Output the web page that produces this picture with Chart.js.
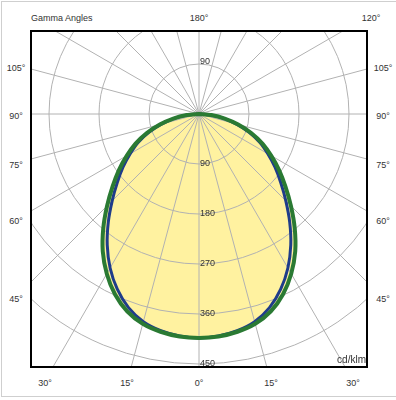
<!DOCTYPE html>
<html><head><meta charset="utf-8">
<script src="https://cdn.jsdelivr.net/npm/chart.js@4/dist/chart.umd.min.js"></script>
<style>
html,body{margin:0;padding:0;background:#fff;width:396px;height:400px;overflow:hidden;font-family:"Liberation Sans",Arial,sans-serif;}
#frame{position:absolute;left:1px;top:1px;width:410px;height:394px;border:1px solid #cfcfcf;}
#box{position:absolute;left:30px;top:30px;width:338px;height:338px;box-sizing:border-box;border:2px solid #000;overflow:hidden;background:#fff;}
#box canvas{position:absolute;left:-133px;top:-218px;}
.t{position:absolute;font-size:9px;line-height:10px;color:#333;white-space:nowrap;}
.c{transform:translateX(-50%);}
.r{transform:translateX(-100%);}
</style></head>
<body>
<div id="frame"></div>
<div id="box"><canvas id="chart" width="600" height="600"></canvas></div>
<div id="labels"></div>
<script>
// ---- data ----
// gamma angles of the samples, degrees (0 = straight down)
const gammaSteps = [0,5,10,15,20,25,30,35,40,45,50,55,60,65,70,75,80,85,90,
                    95,100,105,110,115,120,125,130,135,140,145,150,155,160,165,170,175,180];
// luminous intensity, cd/klm — blue curve (C0 / C180 plane)
const blueC0C180 = [403,401,396,387,371,348,320,288,254,221,192,167,143,121,96,70,45,21,0,
                    0,0,0,0,0,0,0,0,0,0,0,0,0,0,0,0,0,0];
// luminous intensity, cd/klm — green curve (C90 / C270 plane)
const greenC90C270 = [403,402,398,391,378,358,332,302,268,234,203,176,150,126,100,73,47,22,0,
                      0,0,0,0,0,0,0,0,0,0,0,0,0,0,0,0,0,0];
// radial tick values (cd/klm)
const intensityTicks = [90,180,270,360,450];
// gamma angle labels around the frame
const sideAngleLabels = ['105°','90°','75°','60°','45°'];
const bottomAngleLabels = ['30°','15°','0°','15°','30°'];
const topLabels = ['Gamma Angles','180°','120°'];
const unitLabel = 'cd/klm';

// ---- build radar ring: index 0 = gamma 0 (down), going clockwise through the left side ----
const ringLabels = [];
const ringIndexToGamma = [];
for (let i = 0; i < 72; i++) {
  const g = i <= 36 ? gammaSteps[i] : gammaSteps[72 - i];
  ringIndexToGamma.push(g);
  ringLabels.push(g + '°');
}
const blueRing = ringIndexToGamma.map(g => blueC0C180[gammaSteps.indexOf(g)]);
const greenRing = ringIndexToGamma.map(g => greenC90C270[gammaSteps.indexOf(g)]);

const GRID = '#b2b2b2';
let gridPhase = false;

const gridOverFill = {
  id: 'gridOverFill',
  afterDatasetDraw(chart, args) {
    if (args.index !== 0) return;
    const s = chart.scales.r;
    gridPhase = true;
    s.drawGrid(chart.chartArea);
    gridPhase = false;
    const ctx = chart.ctx;
    ctx.save();
    ctx.font = '9px "Liberation Sans", Arial, sans-serif';
    ctx.fillStyle = '#333';
    ctx.textAlign = 'left';
    ctx.textBaseline = 'alphabetic';
    s.ticks.forEach(t => {
      if (!intensityTicks.includes(t.value)) return;
      const d = s.getDistanceFromCenterForValue(t.value);
      ctx.fillText(t.label, s.xCenter + 1, s.yCenter + d + 2);
      ctx.fillText(t.label, s.xCenter + 1, s.yCenter - d);
    });
    ctx.restore();
  }
};

new Chart(document.getElementById('chart'), {
  type: 'radar',
  data: {
    labels: ringLabels,
    datasets: [
      { label: 'fill', data: greenRing, fill: true, backgroundColor: '#fff2a0',
        borderColor: 'transparent', borderWidth: 0, pointRadius: 0, tension: 0.25, order: 3 },
      { label: 'C0 - C180', data: blueRing, fill: false, borderColor: '#1f3c8a',
        borderWidth: 3, pointRadius: 0, tension: 0.25, order: 2 },
      { label: 'C90 - C270', data: greenRing, fill: false, borderColor: '#2a7a33',
        borderWidth: 4, pointRadius: 0, tension: 0.25, order: 1 }
    ]
  },
  options: {
    responsive: false,
    animation: false,
    devicePixelRatio: 1,
    layout: { padding: 0 },
    plugins: { legend: { display: false }, tooltip: { enabled: false } },
    scales: {
      r: {
        min: 0, max: 540, startAngle: 180,
        ticks: { display: false, stepSize: 90 },
        pointLabels: { display: false },
        grid: { circular: true, lineWidth: 1,
          color: c => (gridPhase && c.tick && c.tick.value <= 450) ? GRID : 'transparent' },
        angleLines: { lineWidth: 1,
          color: c => (gridPhase && c.index % 3 === 0) ? GRID : 'transparent' }
      }
    }
  },
  plugins: [gridOverFill]
});

// ---- frame text labels ----
const L = document.getElementById('labels');
function put(text, x, top, cls, size) {
  const d = document.createElement('div');
  d.className = 't ' + (cls || '');
  d.style.left = x + 'px';
  d.style.top = top + 'px';
  if (size) d.style.fontSize = size + 'px';
  d.textContent = text;
  L.appendChild(d);
}
put(topLabels[0], 31, 13, '');
put(topLabels[1], 199, 13, 'c');
put(topLabels[2], 371, 13, 'c');
const sideTops = [63, 111, 160, 216, 294];
sideAngleLabels.forEach((t, i) => { put(t, 16, sideTops[i], 'c'); put(t, 383, sideTops[i], 'c'); });
const bottomX = [45, 127, 199, 271, 353];
bottomAngleLabels.forEach((t, i) => put(t, bottomX[i], 378, 'c'));
put(unitLabel, 366, 355, 'r', 10);
</script>
</body></html>
